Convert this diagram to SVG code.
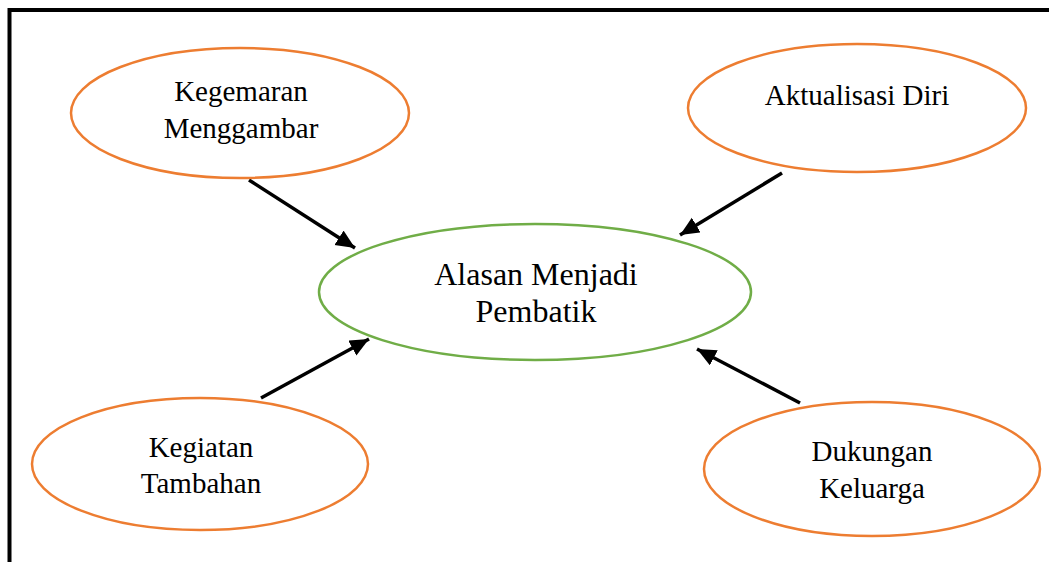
<svg xmlns="http://www.w3.org/2000/svg" width="1049" height="562" viewBox="0 0 1049 562">
<style>
.o{fill:none;stroke:#ED7D31;stroke-width:2.5}
.g{fill:none;stroke:#70AD47;stroke-width:2.5}
.t{font-family:"Liberation Serif","Times New Roman",serif;font-size:29px;fill:#000;text-anchor:middle}
.tb{font-family:"Liberation Serif","Times New Roman",serif;font-size:32px;fill:#000;text-anchor:middle}
.c{stroke:#000;stroke-width:3.5;fill:none;marker-end:url(#ah)}
</style>
<defs>
<marker id="ah" markerUnits="userSpaceOnUse" markerWidth="22" markerHeight="20" refX="19" refY="8.5" orient="auto">
<path d="M0,0 L19,8.5 L0,17 Z" fill="#000"/>
</marker>
</defs>
<rect x="9.5" y="10" width="1100" height="600" fill="#fff" stroke="#000" stroke-width="4"/>
<g id="connectors">
<line class="c" x1="249" y1="180" x2="355" y2="248"/>
<line class="c" x1="782" y1="173" x2="680" y2="235"/>
<line class="c" x1="261" y1="398" x2="369" y2="339"/>
<line class="c" x1="800" y1="403" x2="697" y2="349"/>
</g>
<g id="kegemaran">
<ellipse class="o" cx="240" cy="113" rx="169" ry="65"/>
<text class="t" x="241" y="101">Kegemaran</text>
<text class="t" x="241" y="138">Menggambar</text>
</g>
<g id="aktualisasi">
<ellipse class="o" cx="857" cy="108" rx="169" ry="64"/>
<text class="t" x="857" y="105">Aktualisasi Diri</text>
</g>
<g id="alasan">
<ellipse class="g" cx="535" cy="292" rx="216" ry="68"/>
<text class="tb" x="536" y="285">Alasan Menjadi</text>
<text class="tb" x="536" y="322">Pembatik</text>
</g>
<g id="kegiatan">
<ellipse class="o" cx="200" cy="464" rx="168" ry="66"/>
<text class="t" x="201" y="457">Kegiatan</text>
<text class="t" x="201" y="493">Tambahan</text>
</g>
<g id="dukungan">
<ellipse class="o" cx="872" cy="469" rx="168" ry="67"/>
<text class="t" x="872" y="461">Dukungan</text>
<text class="t" x="872" y="498">Keluarga</text>
</g>
</svg>
